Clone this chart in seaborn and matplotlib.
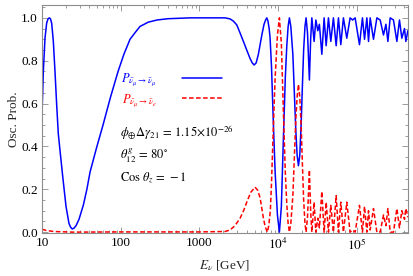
import numpy as np
import pandas as pd
import matplotlib
matplotlib.use("Agg")
import matplotlib.pyplot as plt
import seaborn as sns
from matplotlib.ticker import FixedLocator, FixedFormatter, LogLocator, MultipleLocator, NullFormatter

# ---- data (log10 of E in GeV, probability) ----
logE_mumu = [1.000, 1.017, 1.038, 1.059, 1.076, 1.093, 1.108, 1.123, 1.144, 1.165,
             1.187, 1.207, 1.229, 1.263, 1.305, 1.343, 1.365, 1.385, 1.405, 1.432,
             1.470, 1.525, 1.570, 1.610, 1.690, 1.775, 1.870, 1.966, 2.040, 2.118,
             2.180, 2.245, 2.350, 2.461, 2.600, 2.881, 3.100, 3.325, 3.389, 3.430,
             3.474, 3.515, 3.558, 3.600, 3.643, 3.670, 3.694, 3.720, 3.748, 3.770,
             3.792, 3.820, 3.840, 3.855, 3.870, 3.885, 3.897, 3.915, 3.931, 3.946,
             3.961, 3.990, 4.015, 4.040, 4.066, 4.090, 4.109, 4.126, 4.142, 4.160,
             4.186, 4.205, 4.224, 4.240, 4.257, 4.274, 4.291, 4.307, 4.323, 4.340,
             4.354, 4.372, 4.396, 4.412, 4.427, 4.456, 4.478, 4.503, 4.523, 4.554,
             4.583, 4.609, 4.638, 4.668, 4.701, 4.736, 4.765, 4.795, 4.828, 4.871,
             4.913, 4.945, 4.977, 5.032, 5.070, 5.096, 5.126, 5.147, 5.168, 5.210,
             5.253, 5.295, 5.337, 5.368, 5.393, 5.422, 5.464, 5.507, 5.540, 5.570,
             5.604, 5.621, 5.647]
P_mumu = [0.55, 0.75, 0.905, 0.975, 0.995, 1.0, 0.995, 0.975, 0.89, 0.75,
          0.59, 0.46, 0.38, 0.26, 0.12, 0.04, 0.022, 0.015, 0.018, 0.03,
          0.06, 0.126, 0.20, 0.28, 0.39, 0.50, 0.63, 0.75, 0.83, 0.90,
          0.93, 0.96, 0.98, 0.99, 0.996, 1.0, 1.0, 1.0, 0.995, 0.985,
          0.967, 0.93, 0.89, 0.85, 0.81, 0.79, 0.78, 0.79, 0.83, 0.875,
          0.92, 0.97, 0.99, 1.0, 0.985, 0.95, 0.905, 0.77, 0.59, 0.43,
          0.28, 0.08, 0.0, 0.12, 0.44, 0.72, 0.87, 0.96, 1.0, 0.96,
          0.83, 0.65, 0.47, 0.36, 0.31, 0.36, 0.50, 0.68, 0.85, 0.96,
          1.0, 0.93, 0.71, 0.90, 1.0, 0.89, 0.99, 0.94, 0.97, 0.83,
          1.0, 0.87, 1.0, 0.89, 1.0, 0.87, 1.0, 0.875, 1.0, 0.905,
          1.0, 0.99, 1.0, 0.875, 1.0, 0.90, 1.0, 0.89, 1.0, 0.90,
          1.0, 0.99, 0.92, 0.97, 0.89, 1.0, 0.99, 0.89, 0.99, 0.905,
          0.95, 0.89, 0.94]

logE_mue = [1.000, 1.050, 1.150, 1.385, 2.000, 3.000, 3.325, 3.389, 3.450, 3.516,
            3.560, 3.601, 3.650, 3.706, 3.740, 3.770, 3.792, 3.812, 3.835, 3.863,
            3.880, 3.900, 3.915, 3.931, 3.946, 3.961, 3.990, 4.015, 4.040, 4.066,
            4.090, 4.109, 4.126, 4.142, 4.160, 4.186, 4.205, 4.224, 4.240, 4.257,
            4.274, 4.291, 4.307, 4.323, 4.340, 4.354, 4.372, 4.396, 4.412, 4.427,
            4.456, 4.478, 4.503, 4.523, 4.554, 4.583, 4.609, 4.638, 4.668, 4.701,
            4.736, 4.765, 4.795, 4.828, 4.871, 4.913, 4.945, 4.977, 5.032, 5.070,
            5.096, 5.126, 5.147, 5.168, 5.210, 5.253, 5.295, 5.337, 5.368, 5.393,
            5.422, 5.464, 5.507, 5.540, 5.570, 5.604, 5.621, 5.647]
P_mue = [0.014, 0.008, 0.003, 0.0, 0.001, 0.001, 0.003, 0.01, 0.03, 0.065,
         0.10, 0.14, 0.185, 0.21, 0.195, 0.16, 0.11, 0.065, 0.025, 0.0,
         0.03, 0.10, 0.23, 0.41, 0.57, 0.72, 0.92, 1.0, 0.88, 0.56,
         0.28, 0.13, 0.04, 0.0, 0.04, 0.17, 0.35, 0.53, 0.63, 0.69,
         0.63, 0.50, 0.32, 0.15, 0.04, 0.0, 0.07, 0.29, 0.10, 0.0,
         0.14, 0.0, 0.065, 0.02, 0.19, 0.0, 0.14, 0.0, 0.125, 0.0,
         0.17, 0.0, 0.14, 0.0, 0.14, 0.0, 0.01, 0.0, 0.125, 0.0,
         0.12, 0.0, 0.10, 0.01, 0.11, 0.0, 0.0, 0.08, 0.03, 0.11,
         0.0, 0.0, 0.11, 0.02, 0.10, 0.06, 0.11, 0.07]

x_ticks = [10, 100, 1000, 1e4, 1e5]
x_tick_labels = ["10", "100", "1000", "$10^4$", "$10^5$"]
y_ticks = [0.0, 0.2, 0.4, 0.6, 0.8, 1.0]
y_tick_labels = ["0.0", "0.2", "0.4", "0.6", "0.8", "1.0"]

label_mumu = r"$P_{\bar{\nu}_{\mu}\rightarrow\bar{\nu}_{\mu}}$"
label_mue = r"$P_{\bar{\nu}_{\mu}\rightarrow\bar{\nu}_{e}}$"
notes = [r"$\phi_{\oplus}\Delta\gamma_{21}\,=\,1.15{\times}10^{-26}$",
         r"$\theta^{g}_{12}\,=\,80^{\circ}$",
         r"$\mathrm{Cos}\ \theta_{z}\,=\,-1$"]

# ---- styling ----
sns.set_theme(style="ticks")
plt.rcParams["font.family"] = ["Liberation Serif", "DejaVu Serif"]
plt.rcParams["mathtext.fontset"] = "stix"

df_mumu = pd.DataFrame({"E": np.power(10.0, logE_mumu), "P": P_mumu})
df_mue = pd.DataFrame({"E": np.power(10.0, logE_mue), "P": P_mue})

fig = plt.figure(figsize=(4.13, 2.76), dpi=100)
ax = fig.add_axes([42 / 413, 1 - 233 / 276, 366 / 413, 228 / 276])

sns.lineplot(data=df_mumu, x="E", y="P", ax=ax, color="#0000ff", lw=1.1,
             sort=False, estimator=None, label=label_mumu)
sns.lineplot(data=df_mue, x="E", y="P", ax=ax, color="#ff0000", lw=1.1,
             sort=False, estimator=None, label=label_mue, linestyle=(0, (3, 1.6)))

ax.set_xscale("log")
ax.set_xlim(10, 4.45e5)
ax.set_ylim(-0.004, 1.06)

ax.xaxis.set_major_locator(FixedLocator(x_ticks))
ax.xaxis.set_major_formatter(FixedFormatter(x_tick_labels))
ax.xaxis.set_minor_locator(LogLocator(base=10, subs=np.arange(2, 10)))
ax.xaxis.set_minor_formatter(NullFormatter())
ax.yaxis.set_major_locator(FixedLocator(y_ticks))
ax.yaxis.set_major_formatter(FixedFormatter(y_tick_labels))
ax.yaxis.set_minor_locator(MultipleLocator(0.05))

frame_col = "#8c8c8c"
for s in ax.spines.values():
    s.set_color(frame_col)
    s.set_linewidth(0.8)
ax.tick_params(which="both", direction="in", top=True, right=True, color=frame_col,
               labelsize=9.5, labelcolor="black", width=0.6)
ax.tick_params(which="major", length=4, pad=3)
ax.tick_params(which="minor", length=2.2)

ax.set_xlabel(r"$E_{\nu}$ [GeV]", fontsize=9.5, labelpad=4)
ax.set_ylabel("Osc. Prob.", fontsize=9.5, labelpad=1)

leg = ax.legend(loc="upper left", bbox_to_anchor=(0.2, 0.735), frameon=False,
                markerfirst=False, fontsize=9, handlelength=3.2, handletextpad=2.0,
                labelspacing=0.3, borderpad=0, labelcolor="linecolor")

for t, yy in zip(notes, [0.439, 0.338, 0.241]):
    ax.text(0.213, yy, t, transform=ax.transAxes, fontsize=9, va="center",
            ha="left", color="black")

fig.savefig("out.png", dpi=100)
